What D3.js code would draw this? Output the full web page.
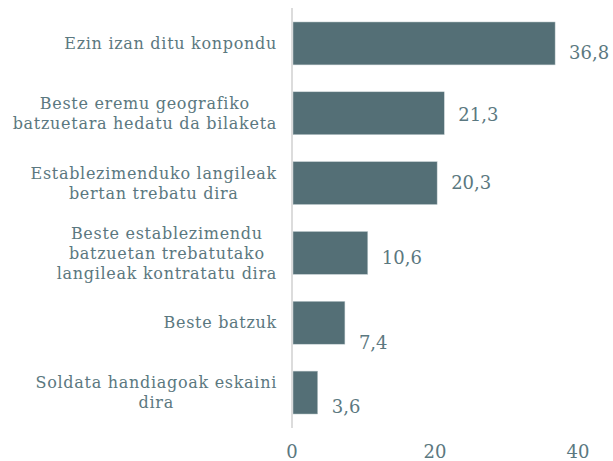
<!DOCTYPE html>
<html>
<head>
<meta charset="utf-8">
<script src="https://cdn.jsdelivr.net/npm/d3@7"></script>
<style>
  body { margin: 0; background: #fff; }
  svg { display: block; }
  text { font-family: 'DejaVu Serif', serif; fill: #5b7880; }
</style>
</head>
<body>
<div id="graf"></div>
<script>
const categories = [
  ['Ezin izan ditu konpondu'],
  ['Beste eremu geografiko', 'batzuetara hedatu da bilaketa'],
  ['Establezimenduko langileak', 'bertan trebatu dira'],
  ['Beste establezimendu', 'batzuetan trebatutako', 'langileak kontratatu dira'],
  ['Beste batzuk'],
  ['Soldata handiagoak eskaini', 'dira']
]
const values = [36.8, 21.3, 20.3, 10.6, 7.4, 3.6]
const ticks = [0, 20, 40]

// small vertical nudges for the value labels, as in the original
const valueNudge = [9, 1.5, 0, 4.5, 19.5, 14.5]

const anchoTotal = 613
const altoTotal = 461

const svg = d3.select('#graf')
  .append('svg')
  .attr('width', anchoTotal)
  .attr('height', altoTotal)

const x = d3.scaleLinear()
  .domain([0, 40])
  .range([292, 578])

const y = d3.scaleBand()
  .domain(d3.range(values.length))
  .range([8, 428])
  .paddingInner(0.385)
  .paddingOuter(0.2)

// eje vertical
svg.append('line')
  .attr('x1', x(0))
  .attr('x2', x(0))
  .attr('y1', 8)
  .attr('y2', 428)
  .attr('stroke', '#dcdcdc')
  .attr('stroke-width', 2)

svg.selectAll('rect.bar')
  .data(values)
  .enter()
  .append('rect')
    .attr('class', 'bar')
    .attr('x', x(0) + 1)
    .attr('y', (d, i) => y(i))
    .attr('width', d => x(d) - x(0) - 1)
    .attr('height', y.bandwidth())
    .attr('fill', '#546f76')
    .attr('stroke', '#c9d3d5')
    .attr('stroke-width', 0.5)

svg.selectAll('text.valor')
  .data(values)
  .enter()
  .append('text')
    .attr('class', 'valor')
    .attr('x', d => x(d) + 14)
    .attr('y', (d, i) => y(i) + y.bandwidth() / 2 + valueNudge[i])
    .attr('dy', '0.35em')
    .attr('font-size', 18)
    .text(d => d.toFixed(1).replace('.', ','))

// etiquetas de categoria, lineas centradas entre si y bloque alineado a la derecha
const lineH = 20
const labels = svg.selectAll('g.cat')
  .data(categories)
  .enter()
  .append('g')
    .attr('class', 'cat')

labels.each(function (lines, i) {
  const g = d3.select(this)
  const t = g.append('text')
    .attr('font-size', 16)
    .attr('letter-spacing', 0.7)
    .attr('text-anchor', 'middle')
  const cy = y(i) + y.bandwidth() / 2
  const top = cy - (lines.length - 1) * lineH / 2
  lines.forEach((l, j) => {
    t.append('tspan')
      .attr('x', 0)
      .attr('y', top + j * lineH)
      .attr('dy', '0.35em')
      .text(l)
  })
  const w = t.node().getBBox().width
  t.attr('transform', `translate(${277 - w / 2}, 0)`)
})

svg.selectAll('text.tick')
  .data(ticks)
  .enter()
  .append('text')
    .attr('class', 'tick')
    .attr('x', d => x(d))
    .attr('y', 452)
    .attr('dy', '0.35em')
    .attr('text-anchor', 'middle')
    .attr('font-size', 18)
    .text(d => d)
</script>
</body>
</html>
